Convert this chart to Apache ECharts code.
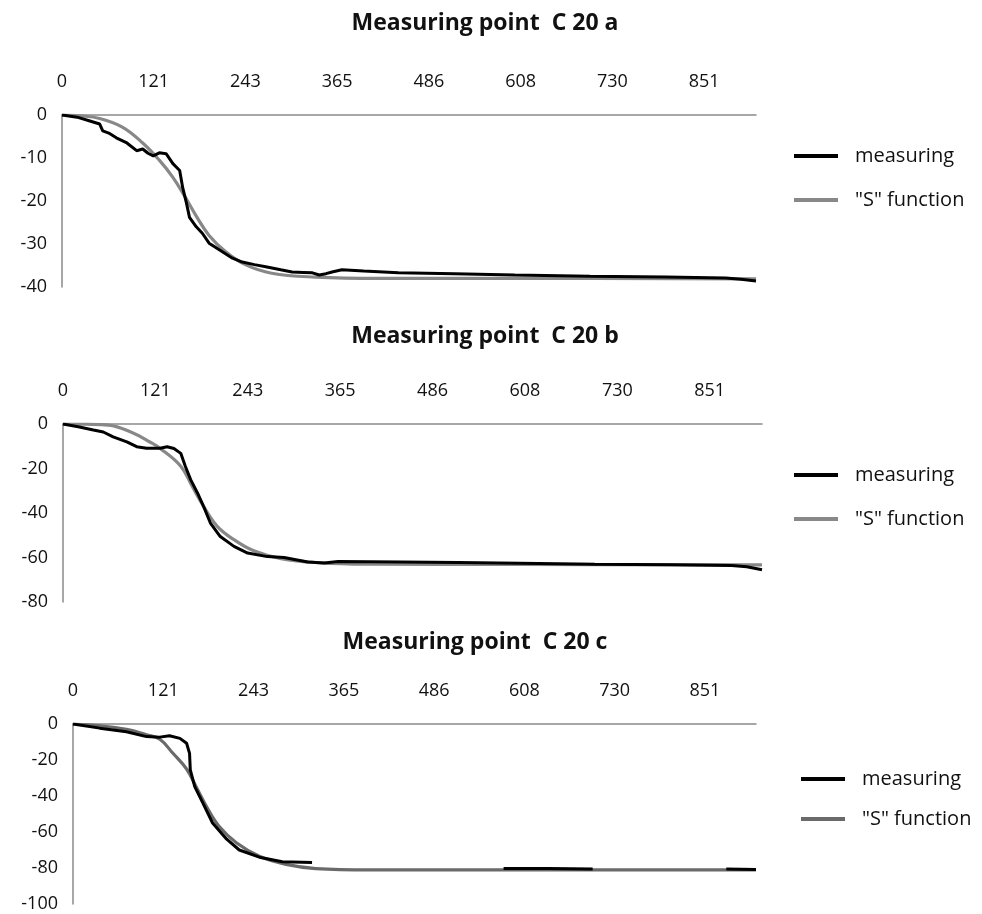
<!DOCTYPE html>
<html>
<head>
<meta charset="utf-8">
<script src="https://cdn.jsdelivr.net/npm/echarts@6/dist/echarts.min.js"></script>
<style>html,body{margin:0;padding:0;background:#fff;}#c{width:982px;height:914px;}</style>
</head>
<body>
<div id="c"></div>
<script>
// ---- data ----
const xTickLabels = ['0','121','243','365','486','608','730','851'];
const titles = ['Measuring point  C 20 a', 'Measuring point  C 20 b', 'Measuring point  C 20 c'];
const seriesNames = ['measuring', '"S" function'];

const aMeasX = [0, 20, 37, 50, 54, 62, 72, 86, 99, 107, 114, 121, 129, 138, 147, 156, 160, 165, 169, 178, 186, 195, 209, 226, 239, 255, 270, 290, 305, 320, 332, 341, 350, 358, 371, 400, 446, 520, 600, 700, 800, 880, 900, 920];
const aMeasY = [0, -0.5, -1.4, -2.1, -3.7, -4.2, -5.3, -6.5, -8.3, -7.9, -8.9, -9.5, -8.8, -9.0, -11.3, -12.9, -16.9, -20.5, -23.8, -26.0, -27.5, -29.8, -31.4, -33.3, -34.2, -34.8, -35.3, -36.0, -36.5, -36.6, -36.7, -37.2, -36.9, -36.5, -36.0, -36.3, -36.7, -36.9, -37.2, -37.5, -37.7, -37.9, -38.2, -38.6];
const aSX = [0, 25, 50, 80, 107, 129, 147, 163, 178, 195, 217, 243, 278, 336, 420, 600, 920];
const aSY = [0, -0.2, -0.8, -2.8, -6.5, -10.5, -14.5, -19, -23.5, -28, -31.8, -34.8, -36.8, -37.7, -38, -38, -38.1];

const bMeasX = [0, 20, 40, 53, 66, 84, 97, 110, 128, 137, 146, 155, 161, 168, 177, 185, 194, 207, 225, 243, 269, 291, 322, 344, 362, 445, 520, 600, 700, 800, 880, 900, 920];
const bMeasY = [0, -1.2, -2.7, -3.6, -5.8, -8.0, -10.2, -10.9, -10.9, -10.2, -11.0, -13.2, -19, -25, -31, -37, -44.5, -50.6, -55, -58, -59.6, -60, -62, -62.5, -61.8, -62, -62.3, -62.6, -63, -63.3, -63.6, -64.2, -65.5];
const bSX = [0, 30, 60, 90, 115, 128, 155, 170, 185, 203, 225, 251, 287, 335, 400, 600, 920];
const bSY = [0, -0.1, -0.5, -3.7, -8.2, -11, -19, -28, -37, -46, -52, -57, -60.5, -62.3, -63, -63.1, -63.3];

const cMeasX = [0, 36, 72, 99, 117, 130, 144, 153, 157, 158, 164, 175, 188, 207, 224, 251, 282, 322, 323, 580, 640, 700, 701, 880, 920];
const cMeasY = [0, -2.3, -4.3, -7.0, -7.3, -6.5, -8.0, -10.7, -16.3, -25.5, -34.8, -44, -55, -64, -70, -74, -76.5, -77, null, -80.3, -80.3, -80.5, null, -80.6, -80.9];
const cSX = [0, 36, 72, 99, 117, 134, 153, 166, 180, 197, 220, 251, 287, 327, 400, 600, 920];
const cSY = [0, -1, -3, -6, -8.5, -16, -25, -35, -46, -57, -66, -73.5, -78, -80.3, -81, -81, -81];

const yMins = [-40, -80, -100];
const yIntervals = [10, 20, 20];
const xMax = 920;
const xStep = 121.6;

// ---- build ----
function zip(xs, ys) { return xs.map((x, i) => [x, ys[i]]); }
const measData = [zip(aMeasX, aMeasY), zip(bMeasX, bMeasY), zip(cMeasX, cMeasY)];
const sData = [zip(aSX, aSY), zip(bSX, bSY), zip(cSX, cSY)];

const grids = [
  {left: 62, top: 115, width: 694, height: 172},
  {left: 63, top: 424, width: 699, height: 178},
  {left: 73, top: 724, width: 683, height: 180}
];
const titleTops = [7, 320, 626];
const titleCenters = [480, 480, 470];
const legendPos = [{left: 789, top: 141, gap: 24}, {left: 789, top: 460, gap: 24}, {left: 796, top: 764, gap: 20}];
const sColors = ['#888888', '#888888', '#6a6a6a'];
const FONT = '"Open Sans", Lato, sans-serif';

const option = {
  backgroundColor: '#fff',
  animation: false,
  title: titles.map((t, i) => ({
    text: t, left: titleCenters[i], top: titleTops[i], textAlign: 'center',
    textStyle: {fontFamily: FONT, fontSize: 23, fontWeight: 'bold', color: '#111'}
  })),
  grid: grids,
  legend: legendPos.map((p, i) => ({
    left: p.left, top: p.top, orient: 'vertical', itemGap: p.gap,
    itemWidth: 44, itemHeight: 4, icon: 'rect',
    textStyle: {fontFamily: FONT, fontSize: 20, color: '#111', padding: [0, 0, 0, 12]},
    data: [
      {name: seriesNames[0], itemStyle: {color: '#000'}},
      {name: seriesNames[1], itemStyle: {color: sColors[i]}}
    ]
  })),
  xAxis: grids.map((g, i) => ({
    gridIndex: i, type: 'value', position: 'top', min: 0, max: xMax, interval: xStep,
    axisLine: {show: true, onZero: false, lineStyle: {color: '#8a8a8a', width: 1.5}},
    axisTick: {show: false}, splitLine: {show: false},
    axisLabel: {
      margin: 24, showMaxLabel: false, fontFamily: FONT, fontSize: 18, color: '#111',
      formatter: v => { const k = Math.round(v / xStep); return Math.abs(v - k * xStep) < 0.5 && xTickLabels[k] !== undefined ? xTickLabels[k] : ''; }
    }
  })),
  yAxis: grids.map((g, i) => ({
    gridIndex: i, type: 'value', min: yMins[i], max: 0, interval: yIntervals[i],
    axisLine: {show: true, onZero: false, lineStyle: {color: '#8a8a8a', width: 1.5}},
    axisTick: {show: false}, splitLine: {show: false},
    axisLabel: {margin: 15, fontFamily: FONT, fontSize: 18, color: '#111'}
  })),
  series: []
};
for (let i = 0; i < 3; i++) {
  option.series.push({
    name: seriesNames[1], type: 'line', xAxisIndex: i, yAxisIndex: i, data: sData[i],
    smooth: 0.4, symbol: 'none', lineStyle: {color: sColors[i], width: 3.2}, itemStyle: {color: sColors[i]}, z: 2
  });
  option.series.push({
    name: seriesNames[0], type: 'line', xAxisIndex: i, yAxisIndex: i, data: measData[i],
    symbol: 'none', connectNulls: false, lineStyle: {color: '#000', width: 3}, itemStyle: {color: '#000'}, z: 3
  });
}
const chart = echarts.init(document.getElementById('c'), null, {renderer: 'canvas'});
chart.setOption(option);
</script>
</body>
</html>
